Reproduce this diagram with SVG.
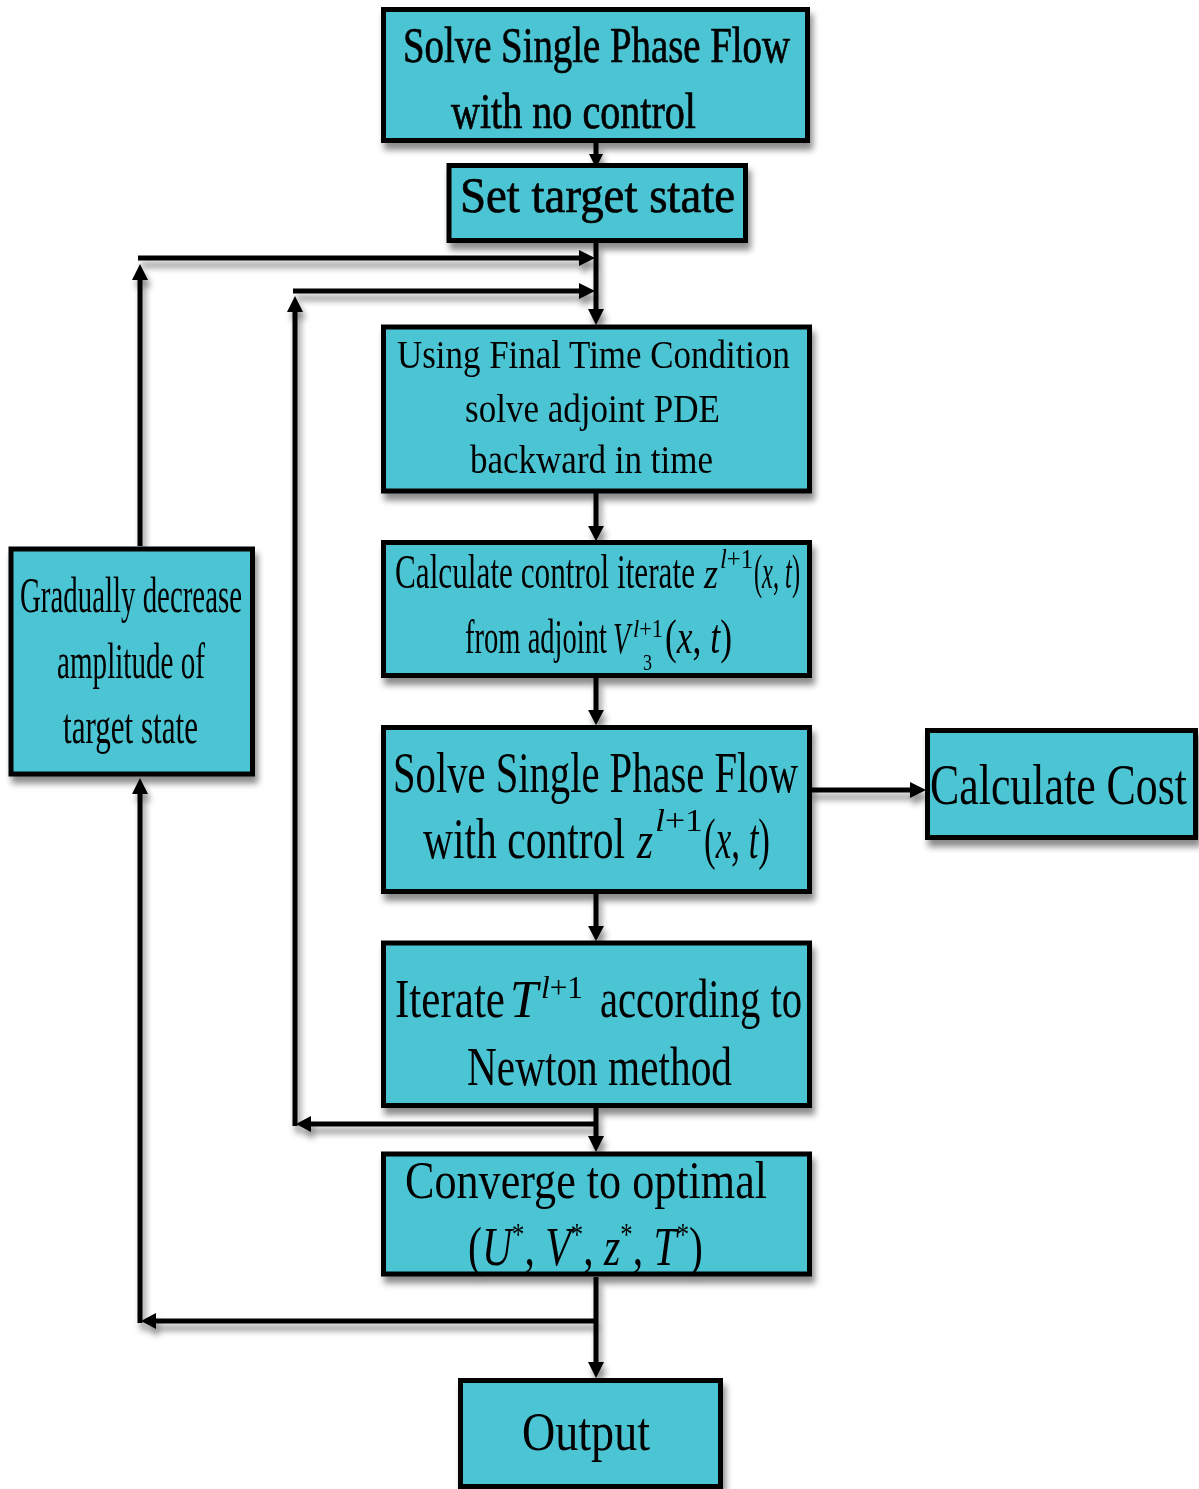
<svg xmlns="http://www.w3.org/2000/svg" width="1199" height="1489" viewBox="0 0 1199 1489">
<style>
.box{fill:#4CC5D3;stroke:#000;stroke-width:5}
.t{font-family:"Liberation Serif","Times New Roman",serif;fill:#000}
.b{stroke:#000;stroke-width:0.7}
.i{font-style:italic}
.ln{stroke:#000;stroke-width:5;fill:none}
.ah{fill:#000}
</style>
<defs>
<filter id="sh" x="-10%" y="-10%" width="130%" height="140%">
<feDropShadow dx="3" dy="7" stdDeviation="3" flood-color="#000" flood-opacity="0.45"/>
</filter>
</defs>
<rect width="1199" height="1489" fill="#fff"/>

<g id="connectors" filter="url(#sh)">
<line class="ln" x1="596" y1="143" x2="596" y2="156"/>
<polygon class="ah" points="589,154 603,154 596,168"/>
<line class="ln" x1="596" y1="243" x2="596" y2="312"/>
<polygon class="ah" points="588,309 604,309 596,325"/>
<line class="ln" x1="140" y1="546" x2="140" y2="276"/>
<polygon class="ah" points="132,280 148,280 140,264"/>
<line class="ln" x1="138" y1="258" x2="582" y2="258"/>
<polygon class="ah" points="579,250 579,266 595,258"/>
<line class="ln" x1="295" y1="1126" x2="295" y2="308"/>
<polygon class="ah" points="287,312 303,312 295,296"/>
<line class="ln" x1="293" y1="291" x2="582" y2="291"/>
<polygon class="ah" points="579,283 579,299 595,291"/>
<line class="ln" x1="596" y1="493" x2="596" y2="528"/>
<polygon class="ah" points="588,526 604,526 596,541"/>
<line class="ln" x1="596" y1="678" x2="596" y2="712"/>
<polygon class="ah" points="588,710 604,710 596,725"/>
<line class="ln" x1="596" y1="894" x2="596" y2="928"/>
<polygon class="ah" points="588,926 604,926 596,941"/>
<line class="ln" x1="810" y1="790" x2="912" y2="790"/>
<polygon class="ah" points="910,782 910,798 926,790"/>
<line class="ln" x1="596" y1="1108" x2="596" y2="1138"/>
<polygon class="ah" points="588,1136 604,1136 596,1152"/>
<line class="ln" x1="596" y1="1124" x2="310" y2="1124"/>
<polygon class="ah" points="311,1116 311,1132 296,1124"/>
<line class="ln" x1="596" y1="1277" x2="596" y2="1364"/>
<polygon class="ah" points="588,1362 604,1362 596,1378"/>
<line class="ln" x1="596" y1="1321" x2="155" y2="1321"/>
<polygon class="ah" points="156,1313 156,1329 141,1321"/>
<line class="ln" x1="140" y1="1323" x2="140" y2="792"/>
<polygon class="ah" points="132,794 148,794 140,778"/>
</g>

<g id="n1" filter="url(#sh)">
<rect class="box" x="383.5" y="9.5" width="424" height="131"/>
<text class="t b" x="403" y="62" font-size="50" textLength="387" lengthAdjust="spacingAndGlyphs">Solve Single Phase Flow</text>
<text class="t b" x="451" y="128" font-size="50" textLength="245" lengthAdjust="spacingAndGlyphs">with no control</text>
</g>

<g id="n2" filter="url(#sh)">
<rect class="box" x="449" y="165.5" width="296.5" height="75"/>
<text class="t b" x="460" y="212" font-size="50" textLength="275" lengthAdjust="spacingAndGlyphs">Set target state</text>
</g>

<g id="n3" filter="url(#sh)">
<rect class="box" x="383.5" y="327" width="426" height="164"/>
<text class="t" x="397" y="368" font-size="39" textLength="393" lengthAdjust="spacingAndGlyphs">Using Final Time Condition</text>
<text class="t" x="465" y="422" font-size="39" textLength="255" lengthAdjust="spacingAndGlyphs">solve adjoint PDE</text>
<text class="t" x="470" y="473" font-size="39" textLength="243" lengthAdjust="spacingAndGlyphs">backward in time</text>
</g>

<g id="n4" filter="url(#sh)">
<rect class="box" x="383.5" y="542.5" width="426" height="133"/>
<text class="t" x="395" y="588" font-size="48" textLength="300" lengthAdjust="spacingAndGlyphs">Calculate control iterate</text>
<text class="t i" x="704" y="588" font-size="44" textLength="14" lengthAdjust="spacingAndGlyphs">z</text>
<text class="t" x="720" y="568" font-size="28" textLength="33" lengthAdjust="spacingAndGlyphs"><tspan class="i">l</tspan>+1</text>
<text class="t" x="754" y="588" font-size="48" textLength="46" lengthAdjust="spacingAndGlyphs">(<tspan class="i">x</tspan>, <tspan class="i">t</tspan>)</text>
<text class="t" x="465" y="653" font-size="48" textLength="142" lengthAdjust="spacingAndGlyphs">from adjoint</text>
<text class="t i" x="613" y="653" font-size="44" textLength="17" lengthAdjust="spacingAndGlyphs">V</text>
<text class="t" x="633" y="637" font-size="26" textLength="30" lengthAdjust="spacingAndGlyphs"><tspan class="i">l</tspan>+1</text>
<text class="t" x="643" y="670" font-size="24" textLength="9" lengthAdjust="spacingAndGlyphs">3</text>
<text class="t" x="665" y="653" font-size="48" textLength="67" lengthAdjust="spacingAndGlyphs">(<tspan class="i">x</tspan>, <tspan class="i">t</tspan>)</text>
</g>

<g id="n5" filter="url(#sh)">
<rect class="box" x="383.5" y="727.5" width="426" height="164"/>
<text class="t" x="393" y="792" font-size="56" textLength="405" lengthAdjust="spacingAndGlyphs">Solve Single Phase Flow</text>
<text class="t" x="423" y="858" font-size="56" textLength="202" lengthAdjust="spacingAndGlyphs">with control</text>
<text class="t i" x="637" y="858" font-size="52" textLength="16" lengthAdjust="spacingAndGlyphs">z</text>
<text class="t" x="655" y="831" font-size="32" textLength="48" lengthAdjust="spacingAndGlyphs"><tspan class="i">l</tspan>+1</text>
<text class="t" x="704" y="858" font-size="56" textLength="66" lengthAdjust="spacingAndGlyphs">(<tspan class="i">x</tspan>, <tspan class="i">t</tspan>)</text>
</g>

<g id="n6" filter="url(#sh)">
<rect class="box" x="383.5" y="943" width="426" height="162.5"/>
<text class="t" x="395" y="1017" font-size="55" textLength="110" lengthAdjust="spacingAndGlyphs">Iterate</text>
<text class="t i" x="510" y="1017" font-size="52" textLength="28" lengthAdjust="spacingAndGlyphs">T</text>
<text class="t" x="541" y="998" font-size="32" textLength="42" lengthAdjust="spacingAndGlyphs"><tspan class="i">l</tspan>+1</text>
<text class="t" x="600" y="1017" font-size="55" textLength="202" lengthAdjust="spacingAndGlyphs">according to</text>
<text class="t" x="467" y="1085" font-size="55" textLength="265" lengthAdjust="spacingAndGlyphs">Newton method</text>
</g>

<g id="n7" filter="url(#sh)">
<rect class="box" x="383.5" y="1154" width="426" height="120"/>
<text class="t" x="405" y="1198" font-size="52" textLength="362" lengthAdjust="spacingAndGlyphs">Converge to optimal</text>
<text class="t" x="468" y="1265" font-size="54" textLength="235" lengthAdjust="spacingAndGlyphs">(<tspan class="i">U</tspan><tspan font-size="32" dy="-20">*</tspan><tspan dy="20">, </tspan><tspan class="i">V</tspan><tspan font-size="32" dy="-20">*</tspan><tspan dy="20">, </tspan><tspan class="i">z</tspan><tspan font-size="32" dy="-20">*</tspan><tspan dy="20">, </tspan><tspan class="i">T</tspan><tspan font-size="32" dy="-20">*</tspan><tspan dy="20">)</tspan></text>
</g>

<g id="n8" filter="url(#sh)">
<rect class="box" x="460.5" y="1380.5" width="260" height="106"/>
<text class="t" x="522" y="1450" font-size="54" textLength="128" lengthAdjust="spacingAndGlyphs">Output</text>
</g>

<g id="n9" filter="url(#sh)">
<rect class="box" x="11" y="549" width="241.5" height="225"/>
<text class="t" x="20" y="612" font-size="50" textLength="222" lengthAdjust="spacingAndGlyphs">Gradually decrease</text>
<text class="t" x="57" y="678" font-size="50" textLength="148" lengthAdjust="spacingAndGlyphs">amplitude of</text>
<text class="t" x="63" y="743" font-size="50" textLength="135" lengthAdjust="spacingAndGlyphs">target state</text>
</g>

<g id="n10" filter="url(#sh)">
<rect class="box" x="927.5" y="730.5" width="268" height="107"/>
<text class="t" x="930" y="804" font-size="56" textLength="257" lengthAdjust="spacingAndGlyphs">Calculate Cost</text>
</g>
</svg>
